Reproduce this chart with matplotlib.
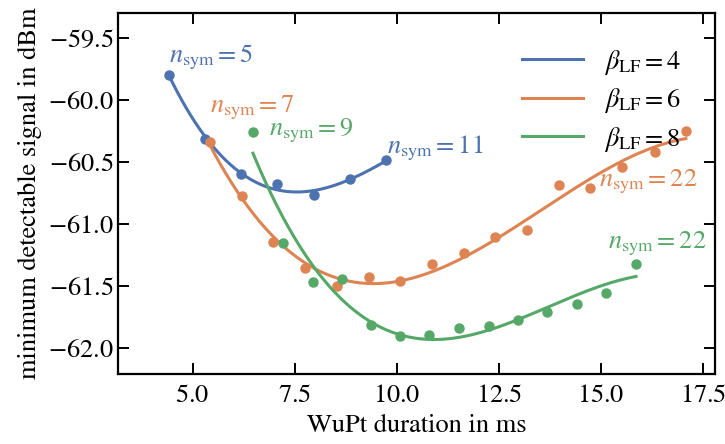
import numpy as np
import matplotlib

matplotlib.use("Agg")
import matplotlib.pyplot as plt

# measured points: WuPt duration (ms) vs minimum detectable signal (dBm)
dur_b4 = [4.43, 5.31, 6.19, 7.08, 7.97, 8.86, 9.74]
mds_b4 = [-59.80, -60.32, -60.60, -60.68, -60.77, -60.64, -60.49]

dur_b6 = [5.44, 6.21, 6.97, 7.76, 8.53, 9.32, 10.08, 10.87,
          11.64, 12.41, 13.19, 13.98, 14.74, 15.52, 16.32, 17.08]
mds_b6 = [-60.34, -60.78, -61.15, -61.36, -61.50, -61.43, -61.46, -61.33,
          -61.24, -61.11, -61.05, -60.69, -60.71, -60.54, -60.42, -60.25]

dur_b8 = [6.48, 7.21, 7.94, 8.66, 9.36, 10.08, 10.80,
          11.53, 12.25, 12.97, 13.69, 14.42, 15.13, 15.86]
mds_b8 = [-60.26, -61.16, -61.47, -61.45, -61.82, -61.91, -61.90,
          -61.84, -61.83, -61.78, -61.71, -61.65, -61.56, -61.33]

series = [
    (dur_b4, mds_b4, r"$\beta_\mathrm{LF} = 4$", "#4C72B0"),
    (dur_b6, mds_b6, r"$\beta_\mathrm{LF} = 6$", "#DD8452"),
    (dur_b8, mds_b8, r"$\beta_\mathrm{LF} = 8$", "#55A868"),
]

plt.rcParams["font.family"] = ["STIXGeneral", "DejaVu Serif"]
plt.rcParams["mathtext.fontset"] = "stix"
plt.rcParams["font.size"] = 19

fig = plt.figure(figsize=(7.25, 4.44), dpi=100)
ax = fig.add_axes([0.163, 0.157, 0.823, 0.814])

for dur, mds, label, color in series:
    x = np.asarray(dur)
    y = np.asarray(mds)
    coef = np.polyfit(x, y, 3)
    xs = np.linspace(x.min(), x.max(), 200)
    ax.plot(xs, np.polyval(coef, xs), color=color, lw=2.2, label=label)
    ax.plot(x, y, "o", color=color, ms=6.5)

sym_labels = [
    (4.43, -59.70, r"$n_\mathrm{sym} = 5$", "#4C72B0"),
    (5.44, -60.10, r"$n_\mathrm{sym} = 7$", "#DD8452"),
    (6.88, -60.29, r"$n_\mathrm{sym} = 9$", "#55A868"),
    (9.76, -60.43, r"$n_\mathrm{sym} = 11$", "#4C72B0"),
    (14.95, -60.70, r"$n_\mathrm{sym} = 22$", "#DD8452"),
    (15.18, -61.20, r"$n_\mathrm{sym} = 22$", "#55A868"),
]
for tx, ty, txt, color in sym_labels:
    ax.text(tx, ty, txt, color=color, ha="left", va="baseline")

ax.set_xlim(3.18, 17.79)
ax.set_ylim(-62.216, -59.30)
ax.set_xticks([5.0, 7.5, 10.0, 12.5, 15.0, 17.5])
ax.set_yticks([-59.5, -60.0, -60.5, -61.0, -61.5, -62.0])
ax.xaxis.set_major_formatter(matplotlib.ticker.FormatStrFormatter("$%.1f$"))
ax.yaxis.set_major_formatter(matplotlib.ticker.FormatStrFormatter("$%.1f$"))
ax.tick_params(direction="in", top=True, right=True, length=8, width=1.4)
ax.tick_params(axis="x", pad=7)
for sp in ax.spines.values():
    sp.set_linewidth(1.6)

ax.set_xlabel("WuPt duration in ms", labelpad=4)
ax.set_ylabel("minimum detectable signal in dBm")
ax.legend(loc="upper right", bbox_to_anchor=(0.975, 0.955), frameon=False,
          handlelength=2.3, labelspacing=0.36, borderaxespad=0.3)

fig.savefig("out.png", dpi=100)
